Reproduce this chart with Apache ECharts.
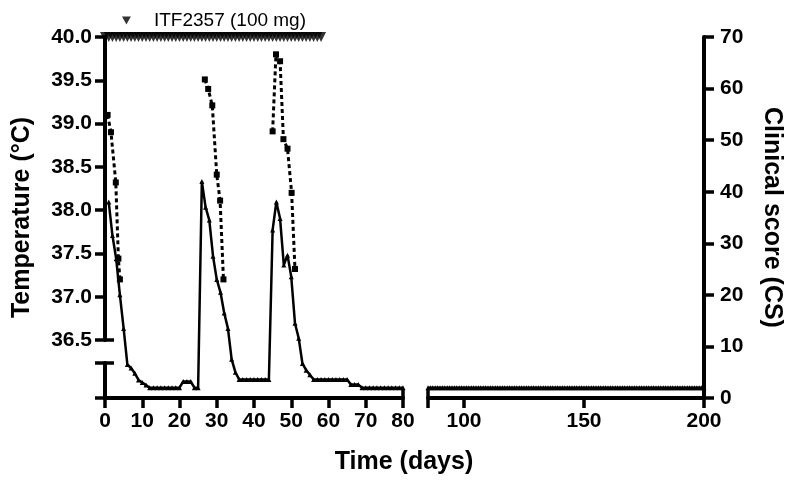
<!DOCTYPE html>
<html>
<head>
<meta charset="utf-8">
<script src="https://cdn.jsdelivr.net/npm/echarts@6/dist/echarts.min.js"></script>
<style>
html, body { margin: 0; padding: 0; background: #fff; }
#main { width: 794px; height: 484px; }
</style>
</head>
<body>
<div id="main"></div>
<script>
// clinical score, left part of the broken time axis (days 1-80)
const scoreDays1 = [1, 2, 3, 4, 5, 6, 7, 8, 9, 10, 11, 12, 13, 14, 15, 16, 17, 18, 19, 20,
  21, 22, 23, 24, 25, 26, 27, 28, 29, 30, 31, 32, 33, 34, 35, 36, 37, 38, 39, 40,
  41, 42, 43, 44, 45, 46, 47, 48, 49, 50, 51, 52, 53, 54, 55, 56, 57, 58, 59, 60,
  61, 62, 63, 64, 65, 66, 67, 68, 69, 70, 71, 72, 73, 74, 75, 76, 77, 78, 79, 80]
const scoreVals1 = [38, 31.5, 27, 20, 13.5, 6.5, 5.8, 4.8, 3.5, 3, 2.5, 2, 2, 2, 2, 2, 2, 2, 2, 2,
  3.2, 3.2, 3.2, 2, 2, 42, 37, 34.5, 27.5, 23, 20.5, 16.5, 13.5, 7.5, 5, 3.6, 3.6, 3.6, 3.6, 3.6,
  3.6, 3.6, 3.6, 3.6, 32.6, 38, 34.8, 25.8, 27.7, 23.5, 14.5, 11.6, 6.7, 5.4, 4.5, 3.6, 3.6, 3.6, 3.6, 3.6,
  3.6, 3.6, 3.6, 3.6, 3.6, 2.6, 2.6, 2.6, 2, 2, 2, 2, 2, 2, 2, 2, 2, 2, 2, 2]

// clinical score, right part (days 85-200)
const scoreDays2 = [85, 86, 87, 88, 89, 90, 91, 92, 93, 94, 95, 96, 97, 98, 99, 100, 101, 102, 103, 104,
  105, 106, 107, 108, 109, 110, 111, 112, 113, 114, 115, 116, 117, 118, 119, 120, 121, 122, 123, 124,
  125, 126, 127, 128, 129, 130, 131, 132, 133, 134, 135, 136, 137, 138, 139, 140, 141, 142, 143, 144,
  145, 146, 147, 148, 149, 150, 151, 152, 153, 154, 155, 156, 157, 158, 159, 160, 161, 162, 163, 164,
  165, 166, 167, 168, 169, 170, 171, 172, 173, 174, 175, 176, 177, 178, 179, 180, 181, 182, 183, 184,
  185, 186, 187, 188, 189, 190, 191, 192, 193, 194, 195, 196, 197, 198, 199, 200]
const scoreVals2 = [2, 2, 2, 2, 2, 2, 2, 2, 2, 2, 2, 2, 2, 2, 2, 2, 2, 2, 2, 2,
  2, 2, 2, 2, 2, 2, 2, 2, 2, 2, 2, 2, 2, 2, 2, 2, 2, 2, 2, 2,
  2, 2, 2, 2, 2, 2, 2, 2, 2, 2, 2, 2, 2, 2, 2, 2, 2, 2, 2, 2,
  2, 2, 2, 2, 2, 2, 2, 2, 2, 2, 2, 2, 2, 2, 2, 2, 2, 2, 2, 2,
  2, 2, 2, 2, 2, 2, 2, 2, 2, 2, 2, 2, 2, 2, 2, 2, 2, 2, 2, 2,
  2, 2, 2, 2, 2, 2, 2, 2, 2, 2, 2, 2, 2, 2, 2, 2]

// temperature, three fever episodes
const tempDaysA = [0.7, 1.6, 2.9, 3.6, 4.0]
const tempValsA = [39.1, 38.9, 38.32, 37.44, 37.2]
const tempDaysB = [26.8, 27.7, 28.8, 30.0, 30.9, 31.8]
const tempValsB = [39.51, 39.4, 39.21, 38.41, 38.11, 37.2]
const tempDaysC = [45.0, 45.9, 47.0, 47.9, 49.0, 50.1, 51.0]
const tempValsC = [38.91, 39.8, 39.72, 38.82, 38.71, 38.2, 37.32]

// ITF2357 dosing days, plotted along the 40.0 line
const doseDays = [0, 1, 2, 3, 4, 5, 6, 7, 8, 9, 10, 11, 12, 13, 14, 15, 16, 17, 18, 19,
  20, 21, 22, 23, 24, 25, 26, 27, 28, 29, 30, 31, 32, 33, 34, 35, 36, 37, 38, 39,
  40, 41, 42, 43, 44, 45, 46, 47, 48, 49, 50, 51, 52, 53, 54, 55, 56, 57, 58]
const doseLevel = 40

const tempTicks = [36.5, 37.0, 37.5, 38.0, 38.5, 39.0, 39.5, 40.0]
const xTicks2 = [100, 150, 200]

const FONT = "'Liberation Sans', Arial, sans-serif"
const INK = '#000'

const pairs = (xs, ys) => xs.map((x, i) => [x, ys[i]])

const axisLine = { show: true, lineStyle: { color: INK, width: 4 } }
const tickOut = { show: true, inside: false, length: 10, lineStyle: { color: INK, width: 3.5 } }
const tickIn = { show: true, inside: true, length: 9, lineStyle: { color: INK, width: 3.5 } }
const lbl = { color: INK, fontFamily: FONT, fontWeight: 'bold', fontSize: 21 }
const titleStyle = { color: INK, fontFamily: FONT, fontWeight: 'bold', fontSize: 25 }
const off = { show: false }

const scoreLine = {
  type: 'line',
  symbol: 'triangle',
  symbolSize: 5,
  lineStyle: { color: INK, width: 2.5 },
  itemStyle: { color: INK },
  z: 3
}
const tempLine = {
  type: 'line',
  symbol: 'rect',
  symbolSize: 6,
  lineStyle: { color: INK, width: 3, type: [4, 3] },
  itemStyle: { color: INK },
  z: 4
}

const option = {
  animation: false,
  backgroundColor: '#fff',
  legend: {
    data: ['ITF2357 (100 mg)'],
    left: 117,
    top: 6,
    icon: 'path://M0,0L10,0L5,9Z',
    itemWidth: 9,
    itemHeight: 8,
    selectedMode: false,
    textStyle: { fontFamily: FONT, fontSize: 19, color: INK, padding: [0, 0, 0, 18] }
  },
  grid: [
    { left: 105, top: 37, width: 298, height: 361, outerBoundsMode: 'none' },
    { left: 428, top: 37, width: 276, height: 361, outerBoundsMode: 'none' },
    { left: 105, top: 37, width: 298, height: 303, outerBoundsMode: 'none' },
    { left: 105, top: 363, width: 298, height: 35, outerBoundsMode: 'none' }
  ],
  xAxis: [
    { gridIndex: 0, type: 'value', position: 'bottom', min: 0, max: 80, interval: 10,
      axisLine, axisTick: tickOut, axisLabel: { ...lbl, margin: 13 }, splitLine: off },
    { gridIndex: 1, type: 'value', position: 'bottom', min: 85, max: 200,
      axisLine, axisTick: { ...tickOut, customValues: [85].concat(xTicks2) },
      axisLabel: { ...lbl, margin: 13, customValues: xTicks2 }, splitLine: off },
    { gridIndex: 2, type: 'value', min: 0, max: 80, show: false },
    { gridIndex: 3, type: 'value', min: 0, max: 80, show: false },
    { gridIndex: 0, type: 'value', position: 'bottom', min: 0, max: 80,
      axisLine: off, axisTick: { ...tickIn, customValues: [80] }, axisLabel: off, splitLine: off },
    { gridIndex: 1, type: 'value', position: 'bottom', min: 85, max: 200,
      axisLine: off, axisTick: { ...tickIn, customValues: [85] }, axisLabel: off, splitLine: off }
  ],
  yAxis: [
    { gridIndex: 0, type: 'value', position: 'left', min: 0, max: 70,
      axisLine: off, axisTick: off, axisLabel: off, splitLine: off,
      name: 'Temperature (°C)', nameLocation: 'middle', nameRotate: 90, nameGap: 70,
      nameMoveOverlap: false, nameTextStyle: titleStyle },
    { gridIndex: 1, type: 'value', position: 'right', min: 0, max: 70, interval: 10,
      axisLine, axisTick: tickOut, axisLabel: { ...lbl, margin: 16 }, splitLine: off,
      name: 'Clinical score (CS)', nameLocation: 'middle', nameRotate: -90, nameGap: 55,
      nameMoveOverlap: false, nameTextStyle: titleStyle },
    { gridIndex: 2, type: 'value', position: 'left', min: 36.5, max: 40, interval: 0.5,
      axisLine, axisTick: { ...tickOut, customValues: tempTicks },
      axisLabel: { ...lbl, margin: 13, customValues: tempTicks, formatter: v => v.toFixed(1) },
      splitLine: off },
    { gridIndex: 2, type: 'value', position: 'left', min: 36.5, max: 40,
      axisLine: off, axisTick: { ...tickIn, customValues: [36.5] }, axisLabel: off, splitLine: off },
    { gridIndex: 3, type: 'value', position: 'left', min: 0, max: 1, interval: 1,
      axisLine, axisTick: tickOut, axisLabel: off, splitLine: off },
    { gridIndex: 3, type: 'value', position: 'left', min: 0, max: 1,
      axisLine: off, axisTick: { ...tickIn, customValues: [1] }, axisLabel: off, splitLine: off }
  ],
  graphic: [
    { type: 'text', x: 404, y: 462, z: 10,
      style: { text: 'Time (days)', fill: INK, font: "bold 25px 'Liberation Sans', Arial, sans-serif",
        align: 'center', verticalAlign: 'middle', textAlign: 'center', textVerticalAlign: 'middle' } }
  ],
  series: [
    { ...scoreLine, name: 'CS', xAxisIndex: 0, yAxisIndex: 0, data: pairs(scoreDays1, scoreVals1) },
    { ...scoreLine, name: 'CS late', xAxisIndex: 1, yAxisIndex: 1, data: pairs(scoreDays2, scoreVals2) },
    { ...tempLine, name: 'T1', xAxisIndex: 2, yAxisIndex: 2, data: pairs(tempDaysA, tempValsA) },
    { ...tempLine, name: 'T2', xAxisIndex: 2, yAxisIndex: 2, data: pairs(tempDaysB, tempValsB) },
    { ...tempLine, name: 'T3', xAxisIndex: 2, yAxisIndex: 2, data: pairs(tempDaysC, tempValsC) },
    { type: 'scatter', name: 'ITF2357 (100 mg)', xAxisIndex: 2, yAxisIndex: 2, clip: false,
      symbol: 'triangle', symbolRotate: 180, symbolSize: [10, 10],
      itemStyle: { color: INK }, z: 5,
      data: doseDays.map(d => [d, doseLevel]) }
  ]
}

echarts.init(document.getElementById('main')).setOption(option)
</script>
</body>
</html>
